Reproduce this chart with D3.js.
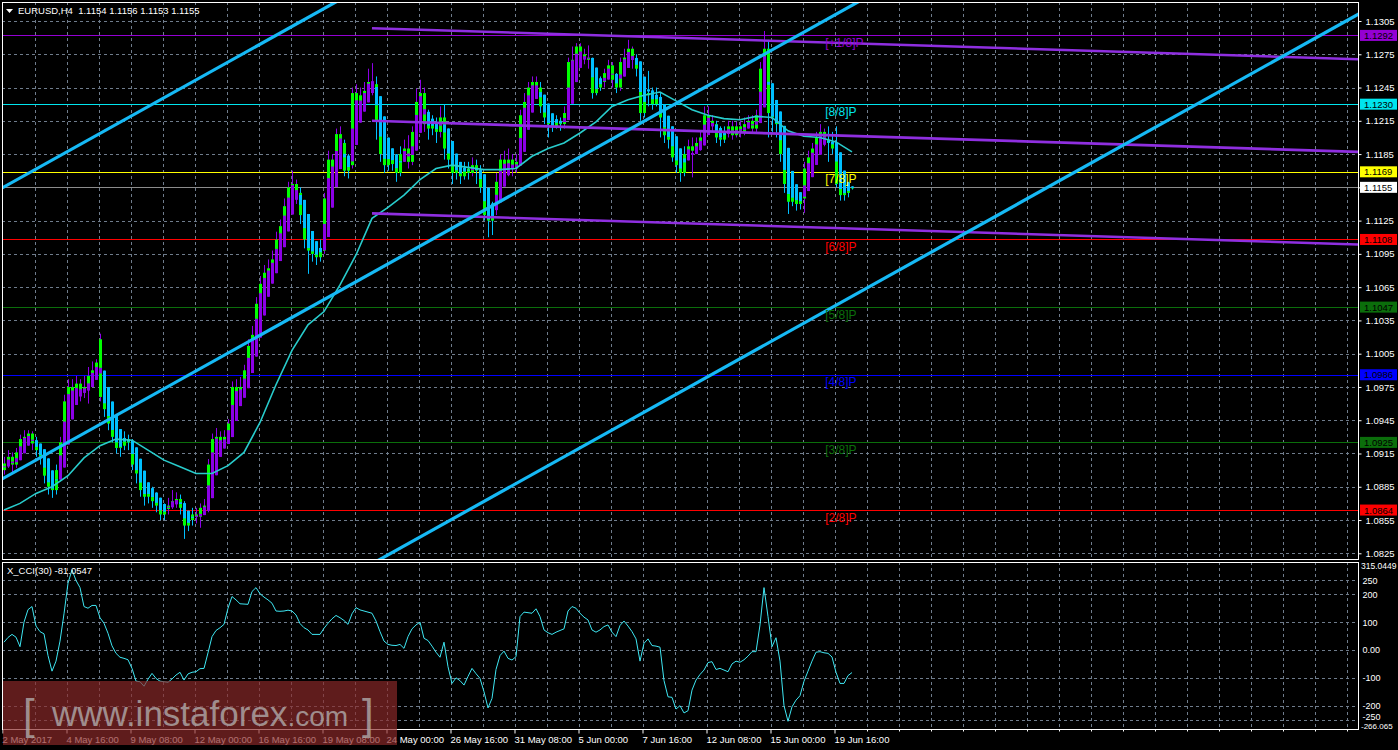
<!DOCTYPE html>
<html><head><meta charset="utf-8">
<script src="https://cdn.jsdelivr.net/npm/d3@7"></script>
<style>html,body{margin:0;padding:0;background:#000;}svg{display:block}</style>
</head><body>
<svg id="c" width="1398" height="750"></svg>
<script>
// ---------------- DATA ----------------
const symbolTitle = "EURUSD,H4";
const lastOHLC = ["1.1154","1.1156","1.1153","1.1155"];
const timeTickBars = [0,16,32,48,64,80,96,112,128,144,160,176,192,208];
const timeTickLabels = ["2 May 2017","4 May 16:00","9 May 08:00","12 May 00:00","16 May 16:00","19 May 08:00","24 May 00:00","26 May 16:00","31 May 08:00","5 Jun 00:00","7 Jun 16:00","12 Jun 08:00","15 Jun 00:00","19 Jun 16:00"];
const priceTicks = [1.0825,1.0855,1.0885,1.0915,1.0945,1.0975,1.1005,1.1035,1.1065,1.1095,1.1125,1.1155,1.1185,1.1215,1.1245,1.1275,1.1305];
const cciTicks = [250,200,100,0,-100,-200,-250];
const cciTickLabels = ["250","200","100","0.00","-100","-200","-250"];
const cciMax = 315.0449, cciMin = -266.065;
const cciTitle = "X_CCI(30) -81.0547";

const open = [
1.0900,1.0906,1.0912,1.0905,1.0916,1.0928,1.0930,1.0933,1.0924,1.0918,
1.0912,1.0895,1.0885,1.0882,1.0900,1.0925,1.0962,1.0975,1.0968,1.0978,
1.0970,1.0975,1.0985,1.0990,1.1018,1.0966,1.0955,1.0942,1.0930,1.0920,
1.0922,1.0928,1.0925,1.0905,1.0897,1.0882,1.0876,1.0880,1.0872,1.0868,
1.0860,1.0865,1.0868,1.0872,1.0874,1.0866,1.0850,1.0855,1.0860,1.0858,
1.0866,1.0868,1.0905,1.0928,1.0930,1.0925,1.0930,1.0942,1.0975,1.0968,
1.0975,1.0990,1.1012,1.1022,1.1050,1.1068,1.1078,1.1082,1.1090,1.1108,
1.1120,1.1138,1.1155,1.1158,1.1150,1.1130,1.1108,1.1098,1.1095,1.1092,
1.1098,1.1145,1.1180,1.1172,1.1203,1.1195,1.1170,1.1175,1.1240,1.1228,
1.1238,1.1242,1.1250,1.1248,1.1215,1.1185,1.1175,1.1182,1.1176,1.1168,
1.1185,1.1190,1.1178,1.1205,1.1232,1.1240,1.1212,1.1208,1.1212,1.1205,
1.1218,1.1190,1.1180,1.1168,1.1172,1.1165,1.1172,1.1168,1.1175,1.1170,
1.1155,1.1130,1.1125,1.1135,1.1160,1.1180,1.1172,1.1180,1.1172,1.1178,
1.1220,1.1232,1.1245,1.1250,1.1245,1.1228,1.1218,1.1212,1.1210,1.1215,
1.1212,1.1222,1.1268,1.1270,1.1282,1.1275,1.1272,1.1270,1.1240,1.1245,
1.1250,1.1258,1.1265,1.1252,1.1245,1.1268,1.1272,1.1280,1.1270,1.1262,
1.1222,1.1240,1.1238,1.1230,1.1235,1.1218,1.1202,1.1198,1.1182,1.1175,
1.1168,1.1185,1.1192,1.1188,1.1195,1.1200,1.1220,1.1215,1.1212,1.1200,
1.1198,1.1205,1.1210,1.1202,1.1210,1.1205,1.1212,1.1215,1.1208,1.1220,
1.1262,1.1280,1.1222,1.1218,1.1212,1.1185,1.1158,1.1142,1.1148,1.1140,
1.1145,1.1172,1.1182,1.1190,1.1200,1.1205,1.1198,1.1195,1.1190,1.1158,
1.1148,1.1150,1.1154];
const high = [
1.0912,1.0918,1.0916,1.0920,1.0932,1.0936,1.0936,1.0935,1.0930,1.0920,
1.0914,1.0898,1.0892,1.0905,1.0930,1.0968,1.0982,1.0982,1.0985,1.0982,
1.0985,1.0993,1.0998,1.1000,1.1023,1.0972,1.0962,1.0948,1.0935,1.0930,
1.0935,1.0932,1.0928,1.0910,1.0900,1.0888,1.0888,1.0885,1.0880,1.0872,
1.0870,1.0875,1.0882,1.0880,1.0878,1.0872,1.0860,1.0866,1.0866,1.0870,
1.0874,1.0910,1.0933,1.0938,1.0935,1.0936,1.0946,1.0980,1.0982,1.0984,
1.0995,1.1018,1.1030,1.1056,1.1075,1.1085,1.1090,1.1098,1.1115,1.1126,
1.1145,1.1160,1.1170,1.1162,1.1155,1.1135,1.1118,1.1108,1.1105,1.1108,
1.1150,1.1188,1.1185,1.1208,1.1210,1.1198,1.1185,1.1245,1.1248,1.1245,
1.1250,1.1262,1.1267,1.1255,1.1225,1.1195,1.1195,1.1190,1.1185,1.1192,
1.1198,1.1202,1.1210,1.1244,1.1252,1.1245,1.1225,1.1220,1.1218,1.1228,
1.1230,1.1200,1.1190,1.1180,1.1175,1.1178,1.1178,1.1182,1.1180,1.1175,
1.1160,1.1140,1.1142,1.1168,1.1185,1.1188,1.1190,1.1185,1.1185,1.1225,
1.1240,1.1250,1.1255,1.1255,1.1250,1.1232,1.1222,1.1218,1.1220,1.1218,
1.1228,1.1272,1.1282,1.1285,1.1285,1.1280,1.1283,1.1272,1.1252,1.1255,
1.1262,1.1270,1.1268,1.1258,1.1272,1.1280,1.1288,1.1282,1.1275,1.1265,
1.1248,1.1260,1.1245,1.1245,1.1240,1.1222,1.1212,1.1210,1.1192,1.1185,
1.1192,1.1198,1.1200,1.1200,1.1205,1.1228,1.1228,1.1220,1.1215,1.1210,
1.1210,1.1215,1.1215,1.1214,1.1215,1.1218,1.1220,1.1220,1.1225,1.1268,
1.1296,1.1288,1.1230,1.1222,1.1215,1.1190,1.1165,1.1155,1.1152,1.1150,
1.1178,1.1188,1.1195,1.1205,1.1212,1.1208,1.1210,1.1205,1.1210,1.1165,
1.1158,1.1157,1.1156];
const low = [
1.0896,1.0902,1.0898,1.0902,1.0910,1.0922,1.0924,1.0918,1.0912,1.0905,
1.0888,1.0878,1.0875,1.0878,1.0898,1.0920,1.0955,1.0962,1.0965,1.0962,
1.0965,1.0960,1.0978,1.0985,1.0962,1.0948,1.0936,1.0925,1.0915,1.0912,
1.0918,1.0918,1.0900,1.0888,1.0876,1.0868,1.0870,1.0866,1.0862,1.0855,
1.0855,1.0860,1.0865,1.0866,1.0860,1.0838,1.0845,1.0850,1.0852,1.0848,
1.0860,1.0862,1.0898,1.0918,1.0918,1.0920,1.0926,1.0938,1.0960,1.0964,
1.0970,1.0985,1.1005,1.1018,1.1045,1.1062,1.1070,1.1078,1.1085,1.1100,
1.1115,1.1130,1.1145,1.1140,1.1122,1.1100,1.1077,1.1088,1.1085,1.1088,
1.1095,1.1140,1.1158,1.1168,1.1188,1.1165,1.1163,1.1172,1.1218,1.1222,
1.1230,1.1240,1.1238,1.1198,1.1178,1.1168,1.1170,1.1170,1.1160,1.1165,
1.1178,1.1172,1.1175,1.1200,1.1225,1.1205,1.1198,1.1202,1.1195,1.1200,
1.1180,1.1172,1.1158,1.1162,1.1158,1.1162,1.1162,1.1165,1.1158,1.1150,
1.1125,1.1110,1.1112,1.1130,1.1155,1.1165,1.1165,1.1165,1.1168,1.1175,
1.1215,1.1225,1.1238,1.1238,1.1222,1.1212,1.1200,1.1205,1.1208,1.1206,
1.1208,1.1218,1.1258,1.1265,1.1268,1.1266,1.1262,1.1235,1.1238,1.1242,
1.1245,1.1255,1.1245,1.1240,1.1242,1.1262,1.1268,1.1262,1.1255,1.1215,
1.1218,1.1228,1.1225,1.1228,1.1200,1.1195,1.1190,1.1178,1.1168,1.1160,
1.1165,1.1182,1.1164,1.1185,1.1188,1.1198,1.1208,1.1205,1.1195,1.1192,
1.1195,1.1200,1.1198,1.1200,1.1200,1.1202,1.1208,1.1205,1.1205,1.1215,
1.1255,1.1200,1.1205,1.1200,1.1178,1.1150,1.1131,1.1138,1.1134,1.1135,
1.1132,1.1165,1.1178,1.1180,1.1192,1.1192,1.1178,1.1185,1.1155,1.1143,
1.1143,1.1146,1.1153];
const close = [
1.0906,1.0912,1.0905,1.0916,1.0928,1.0930,1.0933,1.0924,1.0918,1.0912,
1.0895,1.0885,1.0882,1.0900,1.0925,1.0962,1.0975,1.0968,1.0978,1.0970,
1.0975,1.0985,1.0990,1.0997,1.0966,1.0955,1.0942,1.0930,1.0920,1.0922,
1.0928,1.0925,1.0905,1.0897,1.0882,1.0876,1.0880,1.0872,1.0868,1.0860,
1.0865,1.0868,1.0872,1.0874,1.0866,1.0850,1.0855,1.0860,1.0858,1.0866,
1.0868,1.0905,1.0928,1.0930,1.0925,1.0930,1.0942,1.0975,1.0968,1.0975,
1.0990,1.1012,1.1022,1.1050,1.1068,1.1078,1.1082,1.1090,1.1108,1.1120,
1.1138,1.1155,1.1158,1.1150,1.1130,1.1108,1.1098,1.1095,1.1092,1.1098,
1.1145,1.1180,1.1172,1.1203,1.1195,1.1170,1.1175,1.1240,1.1228,1.1238,
1.1242,1.1250,1.1248,1.1215,1.1185,1.1175,1.1182,1.1176,1.1168,1.1185,
1.1190,1.1178,1.1205,1.1232,1.1240,1.1212,1.1208,1.1212,1.1205,1.1218,
1.1190,1.1180,1.1168,1.1172,1.1165,1.1172,1.1168,1.1175,1.1170,1.1155,
1.1130,1.1125,1.1135,1.1160,1.1180,1.1172,1.1180,1.1172,1.1178,1.1220,
1.1232,1.1245,1.1250,1.1245,1.1228,1.1218,1.1212,1.1210,1.1215,1.1212,
1.1222,1.1268,1.1270,1.1282,1.1275,1.1272,1.1270,1.1240,1.1245,1.1250,
1.1258,1.1265,1.1252,1.1245,1.1268,1.1272,1.1280,1.1270,1.1262,1.1222,
1.1240,1.1238,1.1230,1.1235,1.1218,1.1202,1.1198,1.1182,1.1175,1.1168,
1.1185,1.1192,1.1188,1.1195,1.1200,1.1220,1.1215,1.1212,1.1200,1.1198,
1.1205,1.1210,1.1202,1.1210,1.1205,1.1212,1.1215,1.1208,1.1220,1.1262,
1.1280,1.1222,1.1218,1.1212,1.1185,1.1158,1.1142,1.1148,1.1140,1.1145,
1.1172,1.1182,1.1190,1.1200,1.1205,1.1198,1.1195,1.1190,1.1158,1.1148,
1.1150,1.1154,1.1155];

// moving average read every 4 bars (bars 0,4,8,...,212)
const maStep = 4;
const maValues = [1.0864,1.0870,1.0879,1.0885,1.0895,1.0911,1.0922,1.0928,1.0927,1.0918,
1.0909,1.0903,1.0897,1.0897,1.0904,1.0916,1.0943,1.0977,1.1008,1.1031,
1.1043,1.1067,1.1094,1.1127,1.1137,1.1148,1.1162,1.1172,1.1175,1.1173,
1.1171,1.1171,1.1172,1.1183,1.1190,1.1195,1.1204,1.1214,1.1228,1.1234,
1.1238,1.1241,1.1233,1.1225,1.1220,1.1217,1.1216,1.1219,1.1218,1.1206,
1.1201,1.1200,1.1196,1.1187];

const cci = [
28,45,56,46,12,100,145,156,86,66,
58,-20,-76,-40,32,130,240,288,250,224,
156,150,160,160,116,96,60,15,-12,-26,
-30,-35,-66,-112,-114,-130,-105,-84,-102,-112,
-114,-116,-104,-90,-80,-108,-86,-80,-78,-67,
-66,-10,48,70,80,92,150,192,180,166,
165,164,210,224,202,190,180,168,140,139,
140,143,140,126,95,80,72,56,56,56,
78,96,112,124,116,106,92,130,152,144,
140,136,132,104,66,32,20,17,16,20,
6,48,76,90,100,42,34,14,-8,-26,
28,-60,-120,-100,-110,-126,-95,-66,-85,-102,
-150,-208,-174,-70,-20,-4,-30,-36,-24,120,
136,134,132,148,120,72,62,56,64,70,
76,140,156,150,132,118,108,72,64,72,
84,90,64,48,88,104,86,66,40,-40,
24,40,16,14,10,-110,-168,-170,-212,-200,
-226,-218,-144,-108,-88,-72,-45,-42,-70,-66,
-72,-78,-50,-40,-44,-35,-22,-6,-6,90,
224,120,12,44,-40,-200,-256,-204,-180,-164,
-112,-76,-40,-8,-6,-10,-12,-25,-80,-120,
-120,-92,-81.05];

// Murrey math levels
const levelPrices = [1.1292,1.1230,1.1169,1.1108,1.1047,1.0986,1.0925,1.0864];
const levelNames  = ["[+1/8]P","[8/8]P","[7/8]P","[6/8]P","[5/8]P","[4/8]P","[3/8]P","[2/8]P"];
const levelColors = ["#9400d3","#00e5ee","#ffff00","#ff0000","#0b6e0b","#0000ff","#0b6e0b","#ff0000"];
const bidPrice = 1.1155;

// hand-drawn blue channel (bar, price) anchors of the middle line + half width
const chanBars = [0,200];
const chanMid = [1.0893,1.1295];
const chanHalf = 0.02624;
// regression channel (purple)
const regBars = [92,338.5];
const regMid = [1.1215,1.1187];
const regHalf = 0.00835;

// ---------------- DRAW ----------------
const FONT = "'Liberation Sans', Arial, sans-serif";
const svg = d3.select("#c");
const L = 2, R = 1358, T = 2, MB = 559, CT = 562, CB = 729;
const x = d3.scaleLinear().domain([-0.5,338.5]).range([L,R]);
const y = d3.scaleLinear().domain([1.0825,1.1305]).range([553.3,21]);
const yc = d3.scaleLinear().domain([-200,200]).range([705.7,594.3]);

svg.append("rect").attr("width",1398).attr("height",750).attr("fill","#000");
const defs = svg.append("defs");
defs.append("clipPath").attr("id","cm").append("rect").attr("x",L).attr("y",T).attr("width",R-L).attr("height",MB-T);
defs.append("clipPath").attr("id","cc").append("rect").attr("x",L).attr("y",CT).attr("width",R-L).attr("height",CB-CT);

const gridColor = "#6f7c8c";
const gridBars = d3.range(8,337,8);
// main grid
const gm = svg.append("g").attr("clip-path","url(#cm)");
gm.selectAll(".vg").data(gridBars).join("line")
  .attr("x1",d=>Math.round(x(d))-0.5).attr("x2",d=>Math.round(x(d))-0.5)
  .attr("y1",T).attr("y2",MB).attr("stroke",gridColor).attr("stroke-dasharray","3,3");
gm.selectAll(".hg").data(priceTicks).join("line")
  .attr("x1",L).attr("x2",R).attr("y1",d=>Math.round(y(d))+0.5).attr("y2",d=>Math.round(y(d))+0.5)
  .attr("stroke",gridColor).attr("stroke-dasharray","3,3");
// cci grid
const gc = svg.append("g").attr("clip-path","url(#cc)");
gc.selectAll(".vg").data(gridBars).join("line")
  .attr("x1",d=>Math.round(x(d))-0.5).attr("x2",d=>Math.round(x(d))-0.5)
  .attr("y1",CT).attr("y2",CB).attr("stroke",gridColor).attr("stroke-dasharray","3,3");
gc.selectAll(".hg").data(cciTicks).join("line")
  .attr("x1",L).attr("x2",R).attr("y1",d=>Math.round(yc(d))+0.5).attr("y2",d=>Math.round(yc(d))+0.5)
  .attr("stroke",gridColor).attr("stroke-dasharray","3,3");

// level lines
gm.selectAll(".lv").data(levelPrices).join("line")
  .attr("x1",L).attr("x2",R).attr("y1",d=>Math.round(y(d))+0.5).attr("y2",d=>Math.round(y(d))+0.5)
  .attr("stroke",(d,i)=>levelColors[i]).attr("stroke-width",1);
gm.append("line").attr("x1",L).attr("x2",R).attr("y1",Math.round(y(bidPrice))+0.5).attr("y2",Math.round(y(bidPrice))+0.5)
  .attr("stroke","#8c8c8c");

// candles + heiken ashi
const PUR = "#8c00e6", CYA = "#00bfff", GRN = "#00ff00";
const bars = close.map((c,i)=>({i,o:open[i],h:high[i],l:low[i],c}));
bars.forEach((b,i)=>{
  const hc=(b.o+b.h+b.l+b.c)/4;
  const ho= i===0 ? (b.o+b.c)/2 : (bars[i-1].hao+bars[i-1].hac)/2;
  b.hao=ho; b.hac=hc; b.hah=Math.max(b.h,ho,hc); b.hal=Math.min(b.l,ho,hc); b.up = hc>=ho;
});
const gk = gm.append("g");
gk.selectAll(".wick").data(bars).join("line")
  .attr("x1",d=>x(d.i)+0.5).attr("x2",d=>x(d.i)+0.5)
  .attr("y1",d=>y(d.hah)).attr("y2",d=>y(d.hal))
  .attr("stroke",d=>d.up?PUR:CYA).attr("stroke-width",1);
gk.selectAll(".body").data(bars).join("rect")
  .attr("x",d=>x(d.i)-1).attr("width",3)
  .attr("y",d=>y(Math.max(d.o,d.c))).attr("height",d=>Math.max(1,Math.abs(y(d.o)-y(d.c))))
  .attr("fill",GRN);
gk.selectAll(".ha").data(bars).join("rect")
  .attr("x",d=>x(d.i)-1).attr("width",3)
  .attr("y",d=>y(Math.max(d.hao,d.hac))).attr("height",d=>Math.max(1,Math.abs(y(d.hao)-y(d.hac))))
  .attr("fill",d=>d.up?PUR:CYA);

// moving average
gm.append("path").datum(maValues)
  .attr("d",d3.line().x((d,k)=>x(k*maStep)).y(d=>y(d)))
  .attr("fill","none").attr("stroke","#28cccc").attr("stroke-width",1.6);

// regression channel (purple)
const regLine = (off)=>[[regBars[0],regMid[0]+off],[regBars[1],regMid[1]+off]];
[regHalf,0,-regHalf].forEach(off=>{
  gm.append("path").datum(regLine(off))
    .attr("d",d3.line().x(d=>x(d[0])).y(d=>y(d[1])))
    .attr("stroke","#8f2fe0").attr("stroke-width",2.6).attr("fill","none");
});

// blue channel
const slope = (chanMid[1]-chanMid[0])/(chanBars[1]-chanBars[0]);
[chanHalf,0,-chanHalf].forEach(off=>{
  const pts=[-1,340].map(b=>[b, chanMid[0]+slope*(b-chanBars[0])+off]);
  gm.append("path").datum(pts)
    .attr("d",d3.line().x(d=>x(d[0])).y(d=>y(d[1])))
    .attr("stroke","#16b9f5").attr("stroke-width",3.2).attr("fill","none");
});

// Murrey labels
gm.selectAll(".ml").data(levelPrices).join("text")
  .attr("x",x(205.3)).attr("y",d=>y(d)+11.5)
  .attr("fill",(d,i)=>levelColors[i]).attr("font-family",FONT).attr("font-size",12)
  .text((d,i)=>levelNames[i]);

// CCI line
svg.append("g").attr("clip-path","url(#cc)").append("path").datum(cci)
  .attr("d",d3.line().x((d,i)=>x(i)).y(d=>yc(d)))
  .attr("fill","none").attr("stroke","#3ee6f2").attr("stroke-width",1);

// borders
const bd = svg.append("g").attr("stroke","#fff").attr("fill","none");
bd.append("rect").attr("x",L+0.5).attr("y",T+0.5).attr("width",R-L).attr("height",MB-T);
bd.append("rect").attr("x",L+0.5).attr("y",CT+0.5).attr("width",R-L).attr("height",CB-CT);

// price axis
const ya = svg.append("g").attr("transform",`translate(${R+0.5},0)`)
  .call(d3.axisRight(y).tickValues(priceTicks).tickFormat(d3.format(".4f")).tickSize(3).tickPadding(4));
ya.select(".domain").remove();
ya.selectAll("line").attr("stroke","#fff");
ya.selectAll("text").attr("fill","#fff").attr("font-family",FONT).attr("font-size",9.5);

// level price boxes
const boxes = levelPrices.map((p,i)=>({p,c:levelColors[i]})).concat([{p:bidPrice,c:"#ffffff"}]);
const bx = svg.append("g");
bx.selectAll("rect").data(boxes).join("rect")
  .attr("x",R+2).attr("y",d=>y(d.p)-5.5).attr("width",37).attr("height",11).attr("fill",d=>d.c);
bx.selectAll("text").data(boxes).join("text")
  .attr("x",R+6).attr("y",d=>y(d.p)+3.5).attr("fill","#000")
  .attr("font-family",FONT).attr("font-size",9.5).text(d=>d3.format(".4f")(d.p));

// cci axis
const ca = svg.append("g").attr("transform",`translate(${R+0.5},0)`)
  .call(d3.axisRight(yc).tickValues(cciTicks).tickFormat((d,i)=>cciTickLabels[i]).tickSize(0).tickPadding(4));
ca.select(".domain").remove();
ca.selectAll("text").attr("fill","#fff").attr("font-family",FONT).attr("font-size",9);
ca.selectAll(".tick").filter(d=>d===-250).select("text").attr("dy","-0.05em");
svg.append("text").attr("x",R+3).attr("y",yc(cciMax)+7).attr("fill","#fff").attr("font-family",FONT).attr("font-size",8.5).text(cciMax.toFixed(4));
svg.append("text").attr("x",R+3).attr("y",729).attr("fill","#fff").attr("font-family",FONT).attr("font-size",8).text(cciMin.toFixed(3));

// time axis
const xa = svg.append("g").attr("transform",`translate(0,${CB+0.5})`)
  .call(d3.axisBottom(x).tickValues(timeTickBars).tickFormat((d,i)=>timeTickLabels[i]).tickSize(4).tickPadding(3));
xa.select(".domain").remove();
xa.selectAll("line").attr("stroke","#fff").attr("transform","translate(-1.5,0)");
xa.selectAll("text").attr("fill","#fff").attr("font-family",FONT).attr("font-size",9.5).attr("text-anchor","start").attr("dx",-2);
svg.append("g").selectAll("line").data(d3.range(216,337,8)).join("line")
  .attr("x1",d=>Math.round(x(d))-0.5).attr("x2",d=>Math.round(x(d))-0.5).attr("y1",CB).attr("y2",CB+2.5).attr("stroke","#fff");

// header
svg.append("path").attr("d","M6,9 L13,9 L9.5,13 Z").attr("fill","#fff");
svg.append("text").attr("x",18).attr("y",14).attr("fill","#fff").attr("font-family",FONT).attr("font-size",9.5)
  .attr("xml:space","preserve").text(symbolTitle+"  "+lastOHLC.join(" "));
svg.append("text").attr("x",7).attr("y",574).attr("fill","#fff").attr("font-family",FONT).attr("font-size",9.5).text(cciTitle);

// watermark
const wm = svg.append("g");
wm.append("rect").attr("x",3).attr("y",681).attr("width",394).attr("height",64).attr("fill","#8c2a2a").attr("opacity",0.68);
wm.append("text").attr("x",23).attr("y",729).attr("fill","#b0aaaa").attr("opacity",0.8).attr("font-family",FONT).attr("font-size",42).text("[");
wm.append("text").attr("x",52).attr("y",726).attr("fill","#b0aaaa").attr("opacity",0.8).attr("font-family",FONT).attr("font-size",35)
  .text("www.instaforex").append("tspan").attr("font-size",28).text(".com");
wm.append("text").attr("x",362).attr("y",729).attr("fill","#b0aaaa").attr("opacity",0.8).attr("font-family",FONT).attr("font-size",42).text("]");
</script>
</body></html>
